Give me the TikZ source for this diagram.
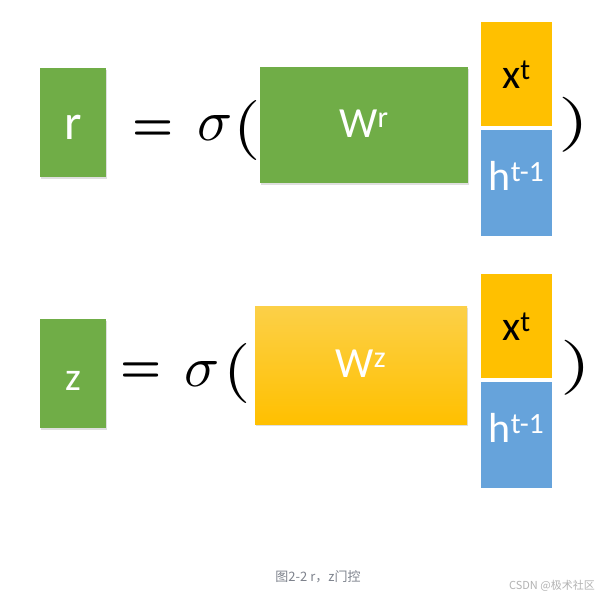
\documentclass[tikz,border=0pt]{standalone}
\usepackage{graphicx}
\usepackage{fontspec}
\setmainfont{Carlito}
\newfontfamily\cjk{Noto Sans CJK SC}
\definecolor{gategreen}{RGB}{112,173,71}
\definecolor{gateyellow}{RGB}{255,192,0}
\definecolor{gatelight}{RGB}{252,208,72}
\definecolor{gateblue}{RGB}{102,163,219}
\definecolor{capgray}{RGB}{125,130,140}
\usetikzlibrary{positioning,shadows}

\begin{document}
\begin{tikzpicture}[x=1pt,y=1pt,every node/.style={inner sep=0pt},
    gatebox/.style={fill=gategreen,text=white,minimum width=66pt,
                    minimum height=109pt,text depth=0pt,
                    drop shadow={opacity=0.25,shadow xshift=1pt,shadow yshift=-2pt}},
    wbox/.style={text=white,minimum width=208pt,minimum height=116pt,
                 font=\fontsize{43}{43}\selectfont,text height=24pt,text depth=0pt,
                 drop shadow={opacity=0.25,shadow xshift=1pt,shadow yshift=-2pt}},
    inbox/.style={minimum width=71pt,minimum height=104pt,text depth=0pt,
                  font=\fontsize{42}{42}\selectfont},
    eqtext/.style={anchor=base west}]

  \useasboundingbox (0,0) rectangle (603,-598);

  % r gate
  \node[gatebox,font=\fontsize{50}{50}\selectfont,text height=34pt] (rgate)
        at (73,-122.5) {r};
  \node[eqtext] (eqr) at (132,-140.5) {\scalebox{4.6}[5]{\boldmath$=$}};
  \node[eqtext] (sigr) at (197,-140) {\scalebox{5.8}{$\sigma$}};
  \node[eqtext] (openr) at (233,-145) {\scalebox{7}[6]{$($}};
  \node[wbox,fill=gategreen] (wr) at (364,-125) {W\textsuperscript{r}};
  \node[inbox,fill=gateyellow,text height=28.6pt] (xr) at (516.5,-74)
        {x\textsuperscript{t}};
  \node[inbox,fill=gateblue,text=white,minimum height=106pt,text height=14pt,
        below=4pt of xr] (hr) {h\textsuperscript{t-1}};
  \node[eqtext] (closer) at (558.5,-138) {\scalebox{8}[5.5]{$)$}};

  % z gate
  \node[gatebox,font=\fontsize{40}{40}\selectfont,text height=33.6pt] (zgate)
        at (73,-373.5) {z};
  \node[eqtext] (eqz) at (120,-382.5) {\scalebox{4.6}[5]{\boldmath$=$}};
  \node[eqtext] (sigz) at (184,-386) {\scalebox{5.8}{$\sigma$}};
  \node[eqtext] (openz) at (223,-388) {\scalebox{7}[6]{$($}};
  \node[wbox,top color=gatelight,bottom color=gateyellow,minimum width=212pt,
        minimum height=118pt] (wz) at (361,-365) {W\textsuperscript{z}};
  \node[inbox,fill=gateyellow,text height=28.6pt] (xz) at (516.5,-326)
        {x\textsuperscript{t}};
  \node[inbox,fill=gateblue,text=white,minimum height=106pt,text height=14pt,
        below=4pt of xz] (hz) {h\textsuperscript{t-1}};
  \node[eqtext] (closez) at (560.5,-381) {\scalebox{8}[5.5]{$)$}};

  \node[text=capgray,font=\cjk\fontsize{13}{13}\selectfont] (caption) at (318,-577)
        {图2-2 r，z门控};
  \node[anchor=east,text=black!30,font=\cjk\fontsize{11}{11}\selectfont] (mark)
        at (595,-586) {CSDN @极术社区};
\end{tikzpicture}
\end{document}
